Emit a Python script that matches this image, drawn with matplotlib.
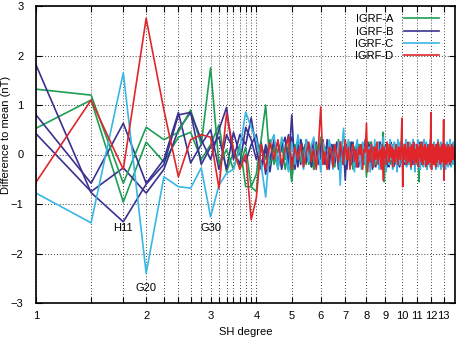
import numpy as np
import matplotlib
matplotlib.use('Agg')
import matplotlib.pyplot as plt
from matplotlib.ticker import NullLocator

plt.rcParams['font.family'] = ['Liberation Sans', 'DejaVu Sans']

# difference to mean per coefficient index (g10, g11, h11, g20, ...)
igrf_a = [1.32, 1.20, -0.58, 0.55, 0.30, 0.45, 0.90, 0.20, 1.75, -0.20,
          0.10, -0.30, 0.20, -0.65, -0.65, -0.40, 0.30, 1.00, -0.20, 0.15,
          -0.30, 0.25, -0.10, 0.20, -0.52, 0.10, 0.30, -0.15, 0.05, 0.25,
          -0.20, 0.10, -0.30, 0.20, 0.00, 0.35, -0.10, 0.15, -0.25, 0.05,
          0.20, -0.15, 0.10, -0.05, 0.30, -0.25, 0.05, 0.15, -0.20, 0.10,
          -0.10, 0.25, 0.00, -0.30, 0.15, 0.05, -0.15, 0.20, -0.05, 0.10,
          -0.20, 0.15, 0.05, -0.45, 0.20, -0.10, 0.10, 0.25, -0.15, 0.00,
          0.15, -0.20, 0.05, 0.20, -0.10, 0.10, -0.25, 0.15, 0.45, -0.55,
          0.10, -0.05, 0.20, -0.15, 0.05, 0.15, -0.20, 0.10, 0.00, -0.10,
          0.20, -0.15, 0.05, 0.10, -0.20, 0.15, -0.05, 0.10, -0.15, 0.05,
          0.15, -0.10, 0.20, -0.05, 0.00, 0.10, -0.20, 0.15, 0.05, -0.10,
          0.10, -0.15, 0.20, 0.00, -0.10, 0.15, -0.05, 0.05, -0.20, 0.10,
          0.05, -0.10, 0.15, -0.55, 0.10, 0.05, -0.15, 0.20, -0.05, 0.00,
          0.10, -0.20, 0.15, 0.05, -0.10, 0.20, -0.15, 0.00, 0.10, -0.05,
          0.15, -0.10, 0.05, 0.20, -0.15, 0.10, -0.05, 0.00, 0.15, -0.20,
          0.05, 0.10, -0.10, 0.20, -0.05, 0.00, 0.15, -0.15, 0.10, 0.05,
          -0.10, 0.15, -0.05, 0.10, -0.20, 0.05, 0.00, 0.20, -0.10, 0.05,
          0.10, -0.15, 0.05, 0.15, -0.05, 0.00, -0.10, 0.10, 0.05, -0.15,
          0.20, -0.05, 0.10, -0.10, 0.05, 0.15, -0.20, 0.05, 0.00, 0.10,
          -0.05, 0.15, -0.10, 0.05, -0.35]

igrf_b = [1.81, -0.77, -1.36, -0.60, -0.20, 0.80, 0.85, 0.30, -0.10, 0.50,
          0.95, -0.10, 0.40, 0.20, 0.74, 0.10, -0.30, 0.20, -0.10, 0.30,
          -0.20, 0.15, 0.35, -0.25, 0.80, -0.30, 0.20, 0.05, -0.15, 0.30,
          0.10, -0.25, 0.20, 0.05, -0.20, 0.15, 0.30, -0.10, 0.05, -0.30,
          0.20, 0.10, -0.15, 0.25, -0.05, 0.10, -0.20, 0.15, -0.52, 0.20,
          0.05, -0.10, 0.25, -0.15, 0.10, 0.00, 0.20, -0.25, 0.10, -0.05,
          0.15, -0.20, 0.30, 0.05, -0.10, 0.20, -0.05, 0.10, -0.30, 0.15,
          0.00, 0.20, -0.15, 0.05, 0.25, -0.10, 0.10, -0.20, 0.05, 0.15,
          -0.10, 0.20, -0.25, 0.05, 0.10, -0.05, 0.25, -0.15, 0.00, 0.10,
          -0.20, 0.15, 0.05, -0.10, 0.20, -0.05, 0.10, -0.15, 0.25, 0.00,
          -0.10, 0.15, 0.05, -0.20, 0.10, 0.00, 0.20, -0.10, 0.05, -0.15,
          0.20, 0.05, -0.10, 0.15, -0.20, 0.10, 0.00, 0.15, -0.05, -0.15,
          0.10, 0.20, -0.10, 0.05, -0.15, 0.15, 0.00, -0.05, 0.20, -0.10,
          0.05, 0.15, -0.20, 0.10, 0.00, -0.10, 0.20, 0.05, -0.15, 0.10,
          -0.05, 0.15, 0.00, -0.20, 0.10, 0.05, -0.10, 0.20, -0.05, 0.10,
          0.00, -0.15, 0.15, 0.05, -0.10, 0.20, -0.05, 0.10, -0.20, 0.05,
          0.15, -0.10, 0.00, 0.10, -0.15, 0.20, 0.05, -0.10, 0.10, -0.05,
          0.15, 0.00, -0.15, 0.10, 0.05, -0.10, 0.20, -0.05, 0.00, 0.10,
          -0.15, 0.05, 0.15, -0.10, 0.00, 0.10, -0.05, 0.20, -0.10, 0.05,
          0.10, -0.10, 0.05, 0.00, -0.05]

igrf_c = [-0.78, -1.38, 1.65, -2.40, -0.45, -0.65, -0.68, -0.27, -1.26, -0.62,
          -0.38, -0.30, 0.10, 0.86, 0.55, 0.30, -0.20, -0.86, 0.20, 0.40,
          -0.30, 0.35, 0.10, -0.35, 0.25, -0.20, 0.40, 0.05, -0.30, 0.30,
          -0.15, 0.20, 0.35, -0.25, 0.10, -0.35, 0.25, 0.05, -0.20, 0.30,
          0.10, -0.30, 0.20, -0.10, 0.25, -0.62, 0.15, 0.53, -0.20, 0.10,
          0.30, -0.25, 0.05, 0.20, -0.35, 0.15, 0.30, -0.15, 0.05, -0.30,
          0.25, 0.10, -0.20, 0.30, -0.10, 0.15, -0.35, 0.20, 0.05, -0.25,
          0.30, -0.15, 0.10, 0.25, -0.30, 0.05, 0.20, -0.20, 0.35, -0.10,
          0.15, -0.35, 0.25, 0.00, -0.20, 0.30, -0.10, 0.20, -0.30, 0.10,
          0.25, -0.15, 0.05, -0.35, 0.30, 0.10, -0.20, 0.25, -0.10, 0.15,
          -0.30, 0.20, 0.05, -0.15, 0.30, -0.25, 0.10, 0.20, -0.20, 0.05,
          0.25, -0.30, 0.15, -0.05, 0.30, -0.20, 0.10, -0.35, 0.20, 0.05,
          -0.15, 0.30, -0.25, 0.10, 0.20, -0.30, 0.05, 0.25, -0.15, 0.10,
          -0.25, 0.30, 0.00, -0.20, 0.15, 0.25, -0.30, 0.10, -0.10, 0.20,
          0.05, -0.25, 0.30, -0.15, 0.10, -0.30, 0.20, 0.05, -0.20, 0.25,
          -0.10, 0.15, -0.30, 0.20, 0.05, -0.15, 0.30, -0.25, 0.10, 0.20,
          -0.20, 0.05, 0.25, -0.30, 0.15, -0.10, 0.20, -0.25, 0.05, 0.30,
          -0.15, 0.10, -0.30, 0.20, 0.00, 0.25, -0.20, 0.10, -0.25, 0.15,
          0.05, -0.20, 0.30, -0.10, 0.15, -0.25, 0.20, 0.00, -0.15, 0.25,
          -0.05, 0.20, -0.20, 0.10, 0.15]

igrf_d = [-0.56, 1.10, -0.30, 2.75, 0.90, -0.45, 0.30, 0.40, 0.35, -0.68,
          0.83, 0.10, -0.30, 0.00, -1.32, -0.88, 0.20, -0.30, 0.25, -0.10,
          0.30, -0.20, 0.10, 0.35, -0.30, 0.15, -0.10, 0.20, -0.25, 0.05,
          0.25, -0.15, 0.10, -0.30, 0.20, 0.96, -0.20, 0.05, -0.30, 0.15,
          0.10, -0.25, 0.20, 0.00, -0.15, 0.25, 0.05, -0.20, 0.30, -0.10,
          0.15, -0.30, 0.05, 0.20, -0.15, 0.10, -0.25, 0.15, 0.00, 0.20,
          -0.30, 0.10, 0.05, 0.63, -0.35, 0.10, -0.15, 0.20, 0.05, -0.25,
          0.15, -0.10, 0.25, -0.20, 0.05, 0.10, -0.30, 0.20, -0.52, 0.15,
          0.05, -0.20, 0.25, 0.10, -0.15, 0.20, -0.05, 0.15, -0.25, 0.10,
          0.00, -0.15, 0.20, 0.05, -0.20, 0.15, 0.10, -0.10, 0.20, 0.73,
          -0.65, 0.15, -0.10, 0.20, 0.05, -0.20, 0.10, 0.25, -0.15, 0.00,
          0.15, -0.25, 0.20, 0.05, -0.10, 0.25, -0.20, 0.10, 0.00, -0.15,
          0.20, 0.05, -0.25, 0.15, -0.05, 0.20, -0.15, 0.10, 0.25, -0.20,
          0.05, 0.15, -0.10, 0.20, -0.25, 0.10, 0.00, 0.15, -0.20, 0.05,
          0.20, -0.15, 0.10, 0.85, -0.30, 0.15, -0.05, 0.20, -0.20, 0.10,
          0.00, 0.15, -0.25, 0.20, 0.05, -0.15, 0.10, 0.25, -0.10, 0.00,
          0.15, -0.20, 0.10, 0.05, -0.15, 0.20, -0.05, 0.10, 0.70, -0.52,
          0.20, -0.10, 0.05, 0.15, -0.20, 0.10, 0.00, -0.15, 0.20, 0.05,
          -0.10, 0.15, -0.20, 0.10, 0.05, -0.15, 0.20, 0.00, -0.10, 0.15,
          0.05, -0.10, 0.10, -0.05, 0.00]

# further candidate models drawn in the same colours, no legend entry
extra_green = [0.53, 1.10, -0.96, 0.25, -0.15, 0.35, 0.45, -0.10, 0.20, 0.60,
               -0.35, 0.05, -0.25, 0.15, -0.65, -0.75, 0.20, -0.10, 0.30, -0.20,
               0.10, 0.25, -0.30, 0.05, -0.55, 0.20, -0.10, 0.30, 0.00, -0.20,
               0.15, -0.25, 0.05, 0.20, -0.10, 0.25, -0.20, 0.10, 0.00, -0.15,
               0.20, 0.05, -0.25, 0.15, -0.05, 0.10, 0.25, -0.20, 0.05, -0.10,
               0.20, -0.15, 0.10, 0.05, -0.25, 0.15, 0.00, -0.10, 0.20, -0.05,
               0.10, -0.20, 0.15, 0.05, -0.15, 0.25, -0.10, 0.00, 0.15, -0.25,
               0.05, 0.20, -0.10, 0.15, -0.20, 0.05, 0.10, -0.15, 0.20, 0.00,
               -0.20, 0.15, 0.05, -0.10, 0.20, -0.15, 0.05, 0.10, -0.20, 0.15,
               0.00, -0.10, 0.20, -0.05, 0.15, -0.20, 0.10, 0.05, -0.15, 0.20,
               -0.10, 0.05, 0.15, -0.20, 0.10, -0.05, 0.20, 0.00, -0.15, 0.10,
               0.05, -0.20, 0.15, 0.10, -0.10, 0.00, 0.20, -0.15, 0.05, 0.10,
               -0.15, 0.20, 0.00, -0.10, 0.15, 0.05, -0.20, 0.10, 0.15, -0.05,
               0.10, -0.15, 0.20, 0.00, -0.20, 0.15, 0.05, -0.10, 0.20, -0.15,
               0.05, 0.10, -0.20, 0.15, 0.00, -0.10, 0.20, -0.05, 0.10, -0.15,
               0.20, -0.05, 0.05, -0.20, 0.15, 0.10, -0.15, 0.00, 0.20, -0.10,
               0.05, 0.15, -0.15, 0.10, 0.00, -0.20, 0.15, 0.05, -0.10, 0.20,
               -0.05, 0.10, -0.20, 0.15, 0.05, -0.10, 0.20, -0.15, 0.00, 0.10,
               -0.20, 0.15, 0.05, -0.05, 0.20, -0.15, 0.10, 0.00, -0.10, 0.15,
               0.05, -0.15, 0.20, -0.10, 0.00]

extra_blue1 = [0.80, -0.58, 0.63, -0.58, -0.10, 0.85, -0.17, 0.20, 0.50, -0.30,
               0.40, 0.10, -0.20, 0.55, 0.30, -0.10, 0.25, -0.40, 0.20, 0.05,
               0.25, -0.30, 0.10, 0.40, -0.20, 0.15, -0.25, 0.30, 0.05, -0.15,
               0.20, 0.05, -0.30, 0.25, -0.10, 0.15, 0.00, -0.20, 0.30, -0.05,
               0.10, -0.25, 0.20, 0.05, -0.15, 0.25, -0.10, 0.00, 0.20, -0.30,
               0.15, 0.05, -0.20, 0.25, -0.10, 0.10, -0.25, 0.20, 0.05, -0.15,
               0.20, -0.05, 0.10, -0.20, 0.25, 0.00, -0.15, 0.15, -0.25, 0.10,
               0.05, -0.20, 0.20, 0.10, -0.10, 0.25, -0.15, 0.00, 0.15, -0.20,
               0.10, 0.20, -0.15, 0.05, -0.25, 0.15, 0.00, -0.10, 0.20, 0.05,
               -0.20, 0.10, 0.15, -0.10, 0.00, 0.20, -0.25, 0.10, 0.05, -0.15,
               0.20, -0.05, -0.15, 0.10, 0.25, -0.20, 0.05, 0.00, 0.15, -0.10,
               -0.20, 0.15, 0.05, -0.10, 0.20, 0.00, -0.15, 0.10, 0.20, -0.05,
               0.10, -0.20, 0.15, 0.00, -0.10, 0.25, -0.15, 0.05, 0.10, -0.20,
               0.15, 0.00, -0.15, 0.20, -0.05, 0.10, -0.20, 0.15, 0.05, -0.10,
               0.20, -0.15, 0.05, 0.10, -0.20, 0.15, 0.00, -0.10, 0.20, -0.05,
               0.10, -0.20, 0.15, 0.05, -0.10, 0.00, 0.20, -0.15, 0.10, 0.05,
               -0.15, 0.20, 0.00, -0.10, 0.15, -0.20, 0.10, 0.05, -0.05, 0.15,
               -0.20, 0.10, 0.05, -0.15, 0.20, 0.00, -0.10, 0.15, -0.05, 0.10,
               0.05, -0.20, 0.15, 0.00, -0.10, 0.20, -0.15, 0.05, 0.10, -0.05,
               0.15, -0.10, 0.00, 0.10, -0.05]

extra_blue2 = [0.42, -0.75, -0.27, -0.78, -0.30, 0.50, 0.85, -0.20, 0.15, 0.35,
               -0.30, 0.45, 0.00, -0.15, 0.20, 0.40, -0.20, 0.10, -0.35, 0.25,
               -0.25, 0.20, 0.05, -0.30, 0.35, -0.10, 0.20, -0.20, 0.10, 0.25,
               -0.15, 0.10, 0.25, -0.20, 0.05, -0.10, 0.20, 0.10, -0.25, 0.15,
               0.00, 0.20, -0.15, 0.10, -0.30, 0.15, 0.05, -0.10, 0.25, -0.20,
               0.10, 0.00, -0.15, 0.20, 0.05, -0.25, 0.15, -0.05, 0.10, 0.20,
               -0.15, 0.05, 0.20, -0.10, 0.15, -0.20, 0.00, 0.25, -0.10, 0.05,
               0.15, -0.25, 0.10, -0.05, 0.20, 0.00, -0.15, 0.10, 0.20, -0.10,
               0.05, -0.15, 0.20, 0.10, -0.20, 0.00, 0.15, -0.05, 0.10, -0.25,
               0.15, 0.05, -0.10, 0.20, -0.15, 0.10, 0.00, -0.20, 0.15, 0.05,
               -0.10, 0.20, -0.15, 0.05, 0.10, -0.20, 0.15, 0.00, -0.05, 0.20,
               -0.15, 0.10, 0.00, 0.20, -0.10, 0.05, -0.20, 0.15, 0.10, -0.05,
               0.20, -0.10, 0.05, -0.15, 0.15, 0.00, 0.10, -0.20, 0.05, 0.15,
               -0.10, 0.20, -0.15, 0.05, 0.10, -0.05, -0.20, 0.15, 0.00, 0.10,
               -0.15, 0.05, 0.20, -0.10, 0.15, 0.00, -0.20, 0.10, 0.05, -0.05,
               0.15, -0.10, 0.00, 0.20, -0.15, 0.05, 0.10, -0.20, 0.15, 0.00,
               -0.05, 0.10, -0.15, 0.20, 0.05, -0.10, 0.15, 0.00, -0.20, 0.10,
               0.05, -0.15, 0.20, -0.05, 0.10, 0.00, -0.20, 0.15, 0.05, -0.10,
               0.20, 0.00, -0.15, 0.10, -0.05, 0.15, -0.10, 0.05, 0.20, -0.15,
               0.00, 0.10, -0.05, 0.15, -0.10]

model_names = ['IGRF-A', 'IGRF-B', 'IGRF-C', 'IGRF-D']
degrees = list(range(1, 14))
marked = [('H11', 3, -1.48), ('G20', 4, -2.70), ('G30', 9, -1.48)]

col_green = '#1e9e55'
col_blue = '#3a3290'
col_cyan = '#38b6e6'
col_red = '#e0262b'

fig = plt.figure(figsize=(4.66, 3.42), dpi=100)
ax = fig.add_axes([36/466, 1-303/342, 419/466, 297/342])

lw = 1.2
for vals, c in [(extra_green, col_green), (extra_blue1, col_blue), (extra_blue2, col_blue)]:
    ax.plot(np.arange(1, len(vals)+1), vals, color=c, lw=lw)

for vals, c, name in [(igrf_a, col_green, model_names[0]), (igrf_b, col_blue, model_names[1]),
                      (igrf_c, col_cyan, model_names[2]), (igrf_d, col_red, model_names[3])]:
    ax.plot(np.arange(1, len(vals)+1), vals, color=c, lw=lw, label=name)

ax.set_xscale('log')
ax.set_xlim(1, 195)
ax.set_ylim(-3, 3)

# ticks at every coefficient up to degree 4, then at the start of each degree
tick_pos = list(range(1, 17)) + [n*n for n in degrees if n > 4]
tick_lab = []
for p in tick_pos:
    if int(round(np.sqrt(p)))**2 == p:
        tick_lab.append(str(int(round(np.sqrt(p)))))
    else:
        tick_lab.append('')
ax.set_xticks(tick_pos)
ax.set_xticklabels(tick_lab)
ax.xaxis.set_minor_locator(NullLocator())
ax.set_yticks([-3, -2, -1, 0, 1, 2, 3])
ax.tick_params(direction='in', top=True, right=True, length=4.5, width=0.8, labelsize=8)
ax.tick_params(axis='x', pad=6)
ax.tick_params(axis='y', pad=9)

ax.grid(True, color='black', linestyle=(0, (1, 2.5)), linewidth=0.6)
for s in ax.spines.values():
    s.set_linewidth(1.2)

for txt, k, yv in marked:
    ax.text(k, yv, txt, ha='center', va='center', fontsize=8)

ax.set_xlabel('SH degree', fontsize=8, labelpad=4)
fig.text(6/466, 1-135/342, 'Difference to mean (nT)', rotation=90, ha='center', va='center', fontsize=8)

leg = ax.legend(loc='upper right', bbox_to_anchor=(0.962, 0.972), frameon=False, markerfirst=False,
                fontsize=8, handlelength=3.2, labelspacing=0.2, borderpad=0, borderaxespad=0,
                handletextpad=0.9)

plt.savefig('out.png', dpi=100)
